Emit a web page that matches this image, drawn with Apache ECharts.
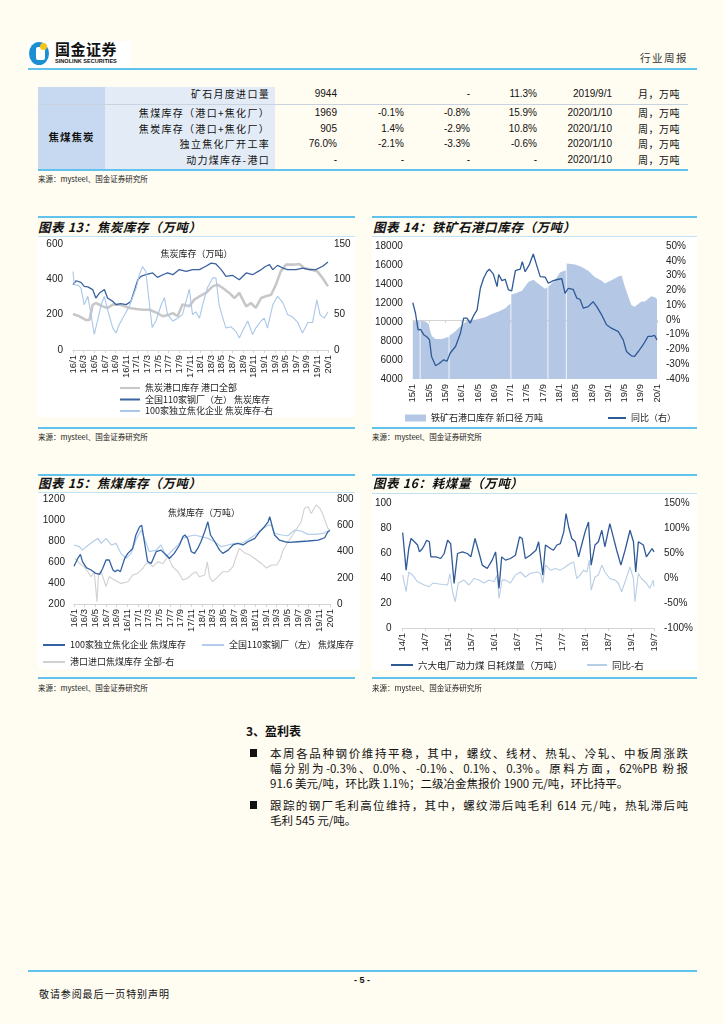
<!DOCTYPE html>
<html><head><meta charset="utf-8">
<script src="https://cdn.jsdelivr.net/npm/echarts@6/dist/echarts.min.js"></script>
<style>
body{margin:0;width:724px;height:1024px;background:#fffcf1;position:relative;overflow:hidden;font-family:"Liberation Sans","Noto Sans CJK SC",sans-serif;color:#111}
.a{position:absolute;white-space:nowrap}
.rule{position:absolute;background:#62c2ee}
.cj{font-family:"Noto Sans CJK SC",sans-serif}
.tt{font-family:"Noto Sans CJK SC",sans-serif;font-weight:bold;font-style:italic;font-size:12.5px;letter-spacing:0.6px}
.src{font-family:"Noto Sans CJK SC",sans-serif;font-size:7.5px;color:#222}
.wbox{position:absolute;background:#fff}
.chart{position:absolute}
.tc{position:absolute;font-size:10px;line-height:16px}
.lab{font-family:"Noto Sans CJK SC",sans-serif;letter-spacing:1.3px;text-align:right;width:230px;left:40px}
.para{position:absolute;left:270px;width:418px;font-family:"Noto Sans CJK SC",sans-serif;font-size:11.5px;line-height:15px;text-align:justify;text-align-last:justify;white-space:nowrap}
</style></head><body>

<!-- header -->
<div class="a" style="left:27px;top:41px;width:104px;height:26px;background:#fff"></div>
<div class="a" style="left:29px;top:42px;width:20px;height:23px;border-radius:50%;background:#1b8fd2"></div>
<div class="a" style="left:36px;top:47px;width:9px;height:13px;background:#fff;border-radius:2px"></div>
<div class="a" style="left:40px;top:43px;width:7px;height:7px;border-radius:50%;background:#f5c518"></div>
<div class="a cj" style="left:55px;top:40px;font-size:15px;font-weight:bold;letter-spacing:0.5px;line-height:18px">国金证券</div>
<div class="a" style="left:55px;top:58px;font-size:5.6px;font-weight:bold;line-height:7px">SINOLINK SECURITIES</div>
<div class="a cj" style="left:640px;top:50px;font-size:10.5px;letter-spacing:1.5px;color:#333">行业周报</div>
<div class="rule" style="left:28px;top:68px;width:669px;height:2px"></div>

<!-- table -->
<div class="a" style="left:38px;top:87px;width:67px;height:82px;background:#c6d9f0"></div>
<div class="a" style="left:105px;top:87px;width:170px;height:82px;background:#e3ebf6"></div>
<div class="a" style="left:38px;top:104px;width:650px;height:1px;background:#c9d3df"></div>
<div class="a" style="left:38px;top:169px;width:650px;height:2px;background:#62c2ee"></div>
<div class="a cj" style="left:38px;top:129px;width:67px;text-align:center;font-size:10.5px;font-weight:bold;letter-spacing:1px">焦煤焦炭</div>
<div id="tbl"></div>
<div class="a src" style="left:38px;top:173px">来源：mysteel、国金证券研究所</div>

<!-- chart 13 -->
<div class="rule" style="left:38px;top:216px;width:317px;height:1.5px"></div>
<div class="a tt" style="left:38px;top:217px">图表 13：焦炭库存（万吨）</div>
<div class="a" style="left:38px;top:236px;width:317px;height:1px;background:#bfe2f4"></div>
<div class="wbox" style="left:38px;top:237px;width:317px;height:180px"></div>
<div class="chart" id="c13" style="left:38px;top:237px;width:317px;height:182px"></div>
<div class="rule" style="left:38px;top:427px;width:317px;height:1.5px"></div>
<div class="a src" style="left:38px;top:431px">来源：mysteel、国金证券研究所</div>

<!-- chart 14 -->
<div class="rule" style="left:372px;top:216px;width:325px;height:1.5px"></div>
<div class="a tt" style="left:373px;top:217px">图表 14：铁矿石港口库存（万吨）</div>
<div class="a" style="left:372px;top:236px;width:325px;height:1px;background:#bfe2f4"></div>
<div class="wbox" style="left:372px;top:237px;width:325px;height:189px"></div>
<div class="chart" id="c14" style="left:372px;top:237px;width:325px;height:189px"></div>
<div class="rule" style="left:372px;top:427px;width:325px;height:1.5px"></div>
<div class="a src" style="left:372px;top:431px">来源：mysteel、国金证券研究所</div>

<!-- chart 15 -->
<div class="rule" style="left:38px;top:474px;width:317px;height:1.5px"></div>
<div class="a tt" style="left:38px;top:473px">图表 15：焦煤库存（万吨）</div>
<div class="a" style="left:38px;top:492px;width:317px;height:1px;background:#bfe2f4"></div>
<div class="wbox" style="left:38px;top:493px;width:322px;height:176px"></div>
<div class="chart" id="c15" style="left:38px;top:493px;width:340px;height:183px"></div>
<div class="rule" style="left:38px;top:677px;width:317px;height:1.5px"></div>
<div class="a src" style="left:38px;top:682px">来源：mysteel、国金证券研究所</div>

<!-- chart 16 -->
<div class="rule" style="left:372px;top:474px;width:325px;height:1.5px"></div>
<div class="a tt" style="left:373px;top:473px">图表 16：耗煤量（万吨）</div>
<div class="a" style="left:372px;top:493px;width:325px;height:1px;background:#bfe2f4"></div>
<div class="wbox" style="left:372px;top:494px;width:325px;height:176px"></div>
<div class="chart" id="c16" style="left:372px;top:494px;width:325px;height:183px"></div>
<div class="rule" style="left:372px;top:677px;width:325px;height:1.5px"></div>
<div class="a src" style="left:372px;top:682px">来源：mysteel、国金证券研究所</div>

<!-- text -->
<div class="a cj" style="left:246px;top:722px;font-size:12px;font-weight:bold">3、盈利表</div>
<div class="a" style="left:250px;top:749px;width:7px;height:8px;background:#111"></div>
<div class="para" style="top:746px">本周各品种钢价维持平稳，其中，螺纹、线材、热轧、冷轧、中板周涨跌</div>
<div class="para" style="top:761px">幅分别为-0.3%、0.0%、-0.1%、0.1%、0.3%。原料方面，62%PB 粉报</div>
<div class="para" style="top:776px;text-align-last:left">91.6 美元/吨，环比跌 1.1%；二级冶金焦报价 1900 元/吨，环比持平。</div>
<div class="a" style="left:250px;top:801px;width:7px;height:8px;background:#111"></div>
<div class="para" style="top:798px">跟踪的钢厂毛利高位维持，其中，螺纹滞后吨毛利 614 元/吨，热轧滞后吨</div>
<div class="para" style="top:813px;text-align-last:left">毛利 545 元/吨。</div>

<div class="rule" style="left:28px;top:970px;width:669px;height:2px"></div>
<div class="a" style="left:354px;top:975px;font-size:9px;font-weight:bold">- 5 -</div>
<div class="a cj" style="left:39px;top:986px;font-size:10px;letter-spacing:0.9px">敬请参阅最后一页特别声明</div>

<script>
// ---------- table data ----------
const tblLabels = ['矿石月度进口量','焦煤库存（港口+焦化厂）','焦炭库存（港口+焦化厂）','独立焦化厂开工率','动力煤库存-港口'];
const tblValue  = ['9944','1969','905','76.0%','-'];
const tblWoW    = ['','-0.1%','1.4%','-2.1%','-'];
const tblMoM    = ['-','-0.8%','-2.9%','-3.3%','-'];
const tblYoY    = ['11.3%','15.9%','10.8%','-0.6%','-'];
const tblDate   = ['2019/9/1','2020/1/10','2020/1/10','2020/1/10','2020/1/10'];
const tblUnit   = ['月，万吨','周，万吨','周，万吨','周，万吨','周，万吨'];

// ---------- chart 13: 焦炭库存 (x = months since 2016/1) ----------
const c13Port = [[0,204],[1.2,191],[2.4,170],[3.1,170],[3.7,255],[4.3,266],[5.6,247],[6.5,238],[7.5,257],[8.7,257],[9.7,247],[10.6,238],[11.9,232],[13.1,228],[14.4,228],[15.9,209],[16.9,191],[18.1,200],[18.8,209],[19.7,191],[20.6,257],[21.9,247],[22.8,285],[23.8,304],[25.0,323],[26.3,360],[27.2,370],[28.2,351],[29.4,323],[30.4,294],[31.3,323],[32.6,247],[33.5,266],[34.4,238],[35.4,294],[36.3,304],[37.3,313],[38.2,370],[39.1,445],[40.1,483],[41.3,483],[42.6,487],[43.5,464],[44.8,455],[46.0,445],[47.0,406],[48,360]];
const c13Mill = [[0,370],[0.6,392],[1.5,383],[2.1,360],[2.8,357],[3.7,342],[4.3,294],[5.0,323],[5.9,342],[6.5,294],[7.5,275],[8.1,257],[9.0,262],[10.0,257],[10.9,275],[11.5,332],[12.2,398],[12.8,417],[13.7,426],[15.0,436],[15.9,411],[16.9,426],[17.8,436],[18.8,426],[20.0,455],[21.3,445],[22.5,455],[23.8,455],[25.0,474],[26.0,492],[26.9,487],[27.9,455],[28.8,417],[30.0,423],[31.3,398],[32.6,436],[33.8,426],[35.1,449],[36.3,474],[37.0,483],[37.6,455],[38.5,479],[39.5,464],[40.4,455],[42.0,455],[43.2,464],[44.5,455],[45.7,455],[47.0,474],[48,498]];
const c13Coker = [[0,111],[0.25,92],[0.9,92],[1.5,88],[2.1,64],[2.8,76],[3.4,50],[4.0,22],[4.6,41],[5.3,64],[5.9,76],[6.5,57],[7.5,31],[8.1,24],[8.7,36],[9.7,50],[10.6,62],[11.9,88],[12.5,107],[13.1,118],[13.7,111],[14.4,64],[14.9,32],[15.6,41],[16.6,64],[17.2,74],[17.8,50],[18.8,41],[19.7,45],[20.6,50],[21.9,86],[22.5,50],[23.1,54],[23.8,45],[24.4,64],[25.3,88],[26.3,102],[26.9,102],[27.5,64],[28.2,45],[28.8,31],[29.7,33],[30.7,26],[31.3,17],[32.2,31],[32.9,41],[33.8,22],[34.4,31],[35.4,41],[36.0,45],[36.6,31],[37.6,64],[38.5,76],[39.5,67],[40.4,50],[41.3,47],[42.3,39],[43.2,24],[44.2,39],[45.1,39],[45.9,71],[46.5,50],[47.3,45],[48,54]];

// ---------- chart 14: 铁矿石港口库存 (x = months since 2015/1; '-' = missing week) ----------
const c14Stock = [[0,10050],[1.2,10100],[1.7,10120],[1.8,'-'],[1.9,10130],[2.3,10150],[3.1,10050],[3.9,9800],[4.3,9000],[4.7,8500],[5.6,8200],[7.2,8200],[8.8,8450],[8.9,'-'],[9.0,8550],[10.4,9000],[12.1,9700],[13.7,10250],[15.4,10250],[17.8,10500],[19.4,10850],[21.1,11100],[22.7,11450],[24.0,11950],[24.1,'-'],[24.2,12900],[25.1,13000],[26.8,13300],[28.4,14200],[29.6,14450],[30.9,14000],[32.5,13500],[33.1,13650],[33.2,'-'],[33.3,13700],[34.9,14400],[36.2,15250],[37.6,15450],[37.7,'-'],[37.8,16150],[38.0,16200],[39.9,16050],[41.5,15800],[43.1,15400],[44.7,14750],[46.4,14350],[47.2,14050],[48.8,14400],[50.5,14800],[51.3,14900],[52.1,13700],[53.7,11800],[54.5,11600],[56.2,12150],[57.0,12150],[58.6,12700],[59.5,12600],[60,12400]];
const c14YoY = [[0,11.7],[0.66,4.5],[1.3,-6.7],[1.9,-6.4],[2.7,-10.1],[3.5,-11.6],[4.1,-13.5],[4.6,-24.7],[5.6,-31],[6.4,-29.7],[7.6,-27],[8.4,-28],[9.2,-22.4],[10.5,-18],[11.7,-9],[12.5,1.2],[13.3,1.2],[14.1,-2.2],[14.9,2.7],[15.8,6.8],[16.6,21.4],[17.4,28.2],[18.2,32.6],[18.8,34.3],[19.8,31],[20.7,22.5],[21.1,30.7],[21.9,26.6],[22.7,27.5],[23.5,20.3],[24.3,19.6],[25.2,33.3],[26.4,34.3],[26.9,39.4],[27.6,32.6],[28.6,37.2],[29.6,44.6],[30.5,36.4],[31.3,29.3],[32.5,29],[33.3,24.8],[34.5,26.6],[35.8,27.5],[36.6,28],[37.4,18],[38.2,21.4],[39.4,20.7],[40.3,14.7],[41.1,13.8],[41.9,7.9],[43.1,9],[44.3,12.3],[45.2,9],[46.4,3.4],[47.6,-3.3],[48.8,-5.6],[50.5,-7.9],[51.7,-13.5],[52.5,-21.4],[53.7,-24.3],[54.5,-24.7],[55.4,-21.4],[56.6,-16.8],[57.8,-11.2],[58.6,-11.2],[59.4,-10.5],[60,-13.5]];

// ---------- chart 15: 焦煤库存 (x = months since 2016/1) ----------
const c15Coker = [[0,560],[0.2,571],[0.7,634],[1.2,672],[1.6,603],[2.3,546],[3.2,524],[4.1,491],[4.8,482],[5.4,540],[6.0,619],[6.6,619],[7.3,524],[7.7,508],[8.2,524],[8.7,508],[9.5,634],[10.1,682],[11.0,729],[11.6,857],[12.3,936],[12.7,950],[13.2,793],[13.8,603],[14.5,587],[15.4,698],[16.3,713],[17.3,666],[17.9,634],[18.8,682],[19.8,762],[20.4,841],[20.8,857],[21.3,825],[22.0,698],[22.6,682],[23.2,729],[23.8,793],[24.5,888],[25.1,983],[25.6,857],[26.4,793],[27.3,713],[27.9,682],[28.9,713],[29.8,762],[30.7,777],[31.7,762],[32.6,793],[33.9,825],[34.8,888],[35.7,936],[36.4,983],[36.7,1031],[37.0,1047],[37.6,857],[38.5,809],[39.5,793],[40.4,787],[42.0,793],[43.9,800],[45.8,809],[47.0,831],[47.6,888],[48,900]];
const c15Mill = [[0,762],[1.0,746],[1.6,713],[2.3,746],[3.5,793],[4.5,825],[5.1,777],[6.0,825],[7.0,762],[7.9,777],[8.8,682],[9.8,634],[10.7,682],[11.6,809],[12.6,904],[13.2,825],[14.1,698],[15.4,713],[16.3,762],[17.3,650],[18.2,698],[19.5,762],[20.4,825],[21.3,841],[22.6,857],[23.8,841],[25.1,825],[26.4,793],[27.6,746],[28.9,762],[30.1,777],[31.4,777],[32.6,809],[33.9,857],[35.1,904],[36.4,952],[37.0,952],[37.6,872],[38.9,857],[40.1,850],[41.4,904],[42.6,895],[43.9,863],[45.4,863],[46.7,872],[47.6,895],[48,900]];
const c15Port = [[0.2,347],[1.0,309],[1.9,284],[2.6,246],[3.2,208],[3.8,246],[4.3,18],[4.6,233],[5.1,246],[6.0,132],[6.6,208],[7.6,183],[8.8,157],[10.1,170],[11.0,221],[11.9,233],[12.9,271],[13.5,309],[14.1,309],[14.8,284],[15.7,321],[16.7,309],[17.6,360],[18.5,284],[19.5,246],[20.4,183],[21.3,196],[22.3,233],[22.9,246],[23.5,208],[24.5,221],[25.0,321],[25.4,208],[26.0,170],[27.0,208],[27.9,246],[28.9,246],[29.8,284],[30.4,360],[31.0,424],[32.0,389],[32.9,376],[33.9,347],[35.1,309],[36.1,274],[37.0,297],[38.0,297],[38.6,335],[39.2,411],[40.1,471],[41.4,551],[42.6,627],[43.2,729],[43.9,741],[44.5,690],[45.4,754],[46.1,729],[46.7,678],[47.6,576],[48,560]];

// ---------- chart 16: 耗煤量 (x = months since 2014/1) ----------
const c16Burn = [[0,76.4],[0.4,74.8],[0.9,46.3],[1.6,63.6],[2.2,71.6],[3.1,69],[3.9,66.4],[4.4,60.9],[5.2,63.6],[5.7,66.4],[6.3,70.2],[7.0,69],[7.4,56.9],[8.7,56.9],[10.0,55.6],[10.9,59.6],[11.8,70.2],[12.6,67.5],[13.5,35.7],[14.4,59.6],[15.7,60.9],[17.0,59.6],[17.9,56.9],[19.0,71.6],[20.1,59.6],[20.9,50.3],[22.2,47.6],[23.5,54.3],[24.4,60.9],[25.3,31.7],[26.0,56.9],[27.0,54.3],[28.3,55.6],[29.6,58.2],[30.7,72.9],[31.4,71.6],[32.2,55.6],[33.5,58.2],[35.0,62.2],[35.7,69],[36.8,42.3],[37.5,66.4],[38.8,63.6],[39.6,62.2],[40.5,66.4],[41.4,67.5],[42.3,76.9],[42.9,91.5],[43.6,80.6],[44.4,71.6],[45.3,69],[46.2,56.9],[47.0,66.4],[47.9,76.9],[48.8,84.8],[49.5,50.3],[50.5,66.4],[51.4,69],[52.3,78.2],[53.1,65],[54.4,83.5],[55.3,72.9],[56.2,62.2],[57.3,50.3],[58.4,62.2],[59.7,78.2],[60.6,69],[61.2,44.9],[61.9,69],[63.2,66.4],[64.0,56.9],[64.9,60.9],[65.5,63.6],[66,60.9]];
const c16YoY = [[0,5.8],[0.9,-27.5],[1.6,12],[2.6,5.8],[3.9,-7.6],[5.7,-14],[7.0,-17.5],[7.9,-10],[9.6,-12],[11.8,-14],[12.4,9],[13.1,-27.5],[13.8,-47.5],[14.6,-10],[16.1,-4.2],[17.4,-14],[18.7,-1],[20.0,-4],[21.4,-10],[22.7,-4],[24.0,-7.6],[24.8,5.8],[25.3,-40.7],[26.1,-4.2],[27.0,-4.2],[28.3,-10],[29.6,5.8],[30.9,12],[32.2,2],[33.5,9],[35.3,12],[36.2,9],[36.8,-10],[37.5,25.7],[38.8,15.7],[40.1,19],[41.4,15.7],[42.7,22],[44.0,29],[44.9,32],[45.7,-1],[46.6,5.8],[47.5,15.7],[48.4,12],[49.0,35.7],[49.5,-24],[50.5,2],[51.4,5.8],[52.3,25.7],[53.1,12],[54.4,-1],[55.8,-4.2],[56.6,-10],[57.5,-27.5],[58.4,-7.6],[59.7,22],[60.6,-1],[61.0,-47.5],[61.9,9],[62.7,-1],[64.0,-10],[64.9,-20.8],[65.8,-4.2],[66,-17.5]];

// ---------- build table ----------
(function(){
  const rowsY=[86,105,121,136,152];
  let h='';
  for(let i=0;i<5;i++){
    const t=rowsY[i];
    h+=`<div class="tc lab" style="top:${t}px">${tblLabels[i]}</div>`;
    h+=`<div class="tc" style="top:${t}px;left:280px;width:57px;text-align:right">${tblValue[i]}</div>`;
    h+=`<div class="tc" style="top:${t}px;left:345px;width:59px;text-align:right">${tblWoW[i]}</div>`;
    h+=`<div class="tc" style="top:${t}px;left:410px;width:60px;text-align:right">${tblMoM[i]}</div>`;
    h+=`<div class="tc" style="top:${t}px;left:480px;width:57px;text-align:right">${tblYoY[i]}</div>`;
    h+=`<div class="tc" style="top:${t}px;left:540px;width:72px;text-align:right">${tblDate[i]}</div>`;
    h+=`<div class="tc cj" style="top:${t}px;left:638px;letter-spacing:0.5px">${tblUnit[i]}</div>`;
  }
  document.getElementById('tbl').innerHTML=h;
})();

const NUM='"Liberation Sans", Arial, sans-serif';
const CJK='"Noto Sans CJK SC", sans-serif';
function ym(startYear){return v=>{const y=startYear+Math.floor(v/12);const m=Math.round(v%12)+1;return String(y%100).padStart(2,'0')+'/'+m;};}
const plain = v => String(v);
function xAxis(max,interval,start){
  return {type:'value',min:0,max:max,interval:interval,
    axisLine:{show:true,lineStyle:{color:'#d4d4d4',width:1}},
    axisTick:{show:true,length:3,lineStyle:{color:'#d4d4d4'}},
    splitLine:{show:false},
    axisLabel:{rotate:90,fontFamily:NUM,fontSize:9.5,color:'#222',margin:5,hideOverlap:false,formatter:ym(start)}};
}
function yAxis(min,max,interval,fmt,margin,pos){
  return {type:'value',min:min,max:max,interval:interval,position:pos,
    axisLine:{show:false},axisTick:{show:false},splitLine:{show:false},
    axisLabel:{fontFamily:NUM,fontSize:10,color:'#222',margin:margin,formatter:fmt||plain}};
}
function line(name,data,color,width,yi){
  return {name:name,type:'line',data:data,yAxisIndex:yi||0,symbol:'none',showSymbol:false,
    lineStyle:{color:color,width:width},itemStyle:{color:color},z:2};
}
const legText={fontFamily:CJK,fontSize:9,color:'#222',lineHeight:10};
function legItem(n){return {name:n,icon:'rect'};}

// chart 13
echarts.init(document.getElementById('c13')).setOption({
  animation:false,
  title:{text:'焦炭库存（万吨）',left:'center',top:7,textStyle:{fontFamily:CJK,fontSize:9,fontWeight:'normal',color:'#222'}},
  grid:{left:35,right:27,top:7,height:106},
  xAxis:xAxis(48,2,2016),
  yAxis:[yAxis(0,600,200,null,10,'left'),yAxis(0,150,50,null,6,'right')],
  legend:{orient:'vertical',left:82,top:146,padding:0,itemGap:1.5,itemWidth:20,itemHeight:2,textStyle:legText,
    data:[legItem('焦炭港口库存 港口全部'),legItem('全国110家钢厂（左） 焦炭库存'),legItem('100家独立焦化企业 焦炭库存-右')]},
  series:[
    line('焦炭港口库存 港口全部',c13Port,'#c8c8c8',2.6,0),
    line('全国110家钢厂（左） 焦炭库存',c13Mill,'#3a62a0',1.3,0),
    line('100家独立焦化企业 焦炭库存-右',c13Coker,'#a9c7e9',1.1,1)
  ]
});

// chart 14
echarts.init(document.getElementById('c14')).setOption({
  animation:false,
  grid:{left:40,right:40,top:9,height:133},
  xAxis:xAxis(60,4,2015),
  yAxis:[yAxis(4000,18000,2000,null,10,'left'),yAxis(-40,50,10,v=>v+'%',9,'right')],
  legend:[
    {left:33,top:176,padding:0,itemWidth:21,itemHeight:7,textStyle:legText,
      data:[legItem('铁矿石港口库存 新口径 万吨')]},
    {left:236,top:176,padding:0,itemWidth:18,itemHeight:2,textStyle:legText,
      data:[legItem('同比（右）')]}
  ],
  series:[
    {name:'铁矿石港口库存 新口径 万吨',type:'line',data:c14Stock,symbol:'none',connectNulls:false,
      lineStyle:{width:0,color:'#b4c8e5'},itemStyle:{color:'#b4c8e5'},
      areaStyle:{color:'#b4c8e5',opacity:1,origin:'start'},z:1},
    line('同比（右）',c14YoY,'#2f5a96',1.3,1)
  ]
});

// chart 15
echarts.init(document.getElementById('c15')).setOption({
  animation:false,
  title:{text:'焦煤库存（万吨）',left:125,top:10,textStyle:{fontFamily:CJK,fontSize:9,fontWeight:'normal',color:'#222'}},
  grid:{left:36,right:48,top:6,height:105},
  xAxis:xAxis(48,2,2016),
  yAxis:[yAxis(200,1200,200,null,9,'left'),yAxis(0,800,200,null,7,'right')],
  legend:[
    {left:5,top:147,padding:0,itemGap:16,itemWidth:22,itemHeight:2,textStyle:legText,
      data:[legItem('100家独立焦化企业 焦煤库存'),legItem('全国110家钢厂（左） 焦煤库存')]},
    {left:5,top:164,padding:0,itemWidth:22,itemHeight:2,textStyle:legText,data:[legItem('港口进口焦煤库存 全部-右')]}
  ],
  series:[
    line('港口进口焦煤库存 全部-右',c15Port,'#d0d0d0',1.1,1),
    line('全国110家钢厂（左） 焦煤库存',c15Mill,'#b3cdeb',1.2,0),
    line('100家独立焦化企业 焦煤库存',c15Coker,'#3463a3',1.3,0)
  ]
});

// chart 16
echarts.init(document.getElementById('c16')).setOption({
  animation:false,
  grid:{left:29,right:43,top:9,height:125},
  xAxis:xAxis(66,6,2014),
  yAxis:[yAxis(0,100,20,null,11,'left'),yAxis(-100,150,50,v=>v+'%',10,'right')],
  legend:[
    {left:19,top:166,padding:0,itemWidth:22,itemHeight:2,textStyle:{fontFamily:CJK,fontSize:9.5,color:'#222',lineHeight:10},
      data:[legItem('六大电厂动力煤 日耗煤量（万吨）')]},
    {left:215,top:166,padding:0,itemWidth:20,itemHeight:2,textStyle:{fontFamily:CJK,fontSize:9.5,color:'#222',lineHeight:10},
      data:[legItem('同比-右')]}
  ],
  series:[
    line('同比-右',c16YoY,'#b8cde6',1.1,1),
    line('六大电厂动力煤 日耗煤量（万吨）',c16Burn,'#2f5a96',1.3,0)
  ]
});
</script>
</body></html>
